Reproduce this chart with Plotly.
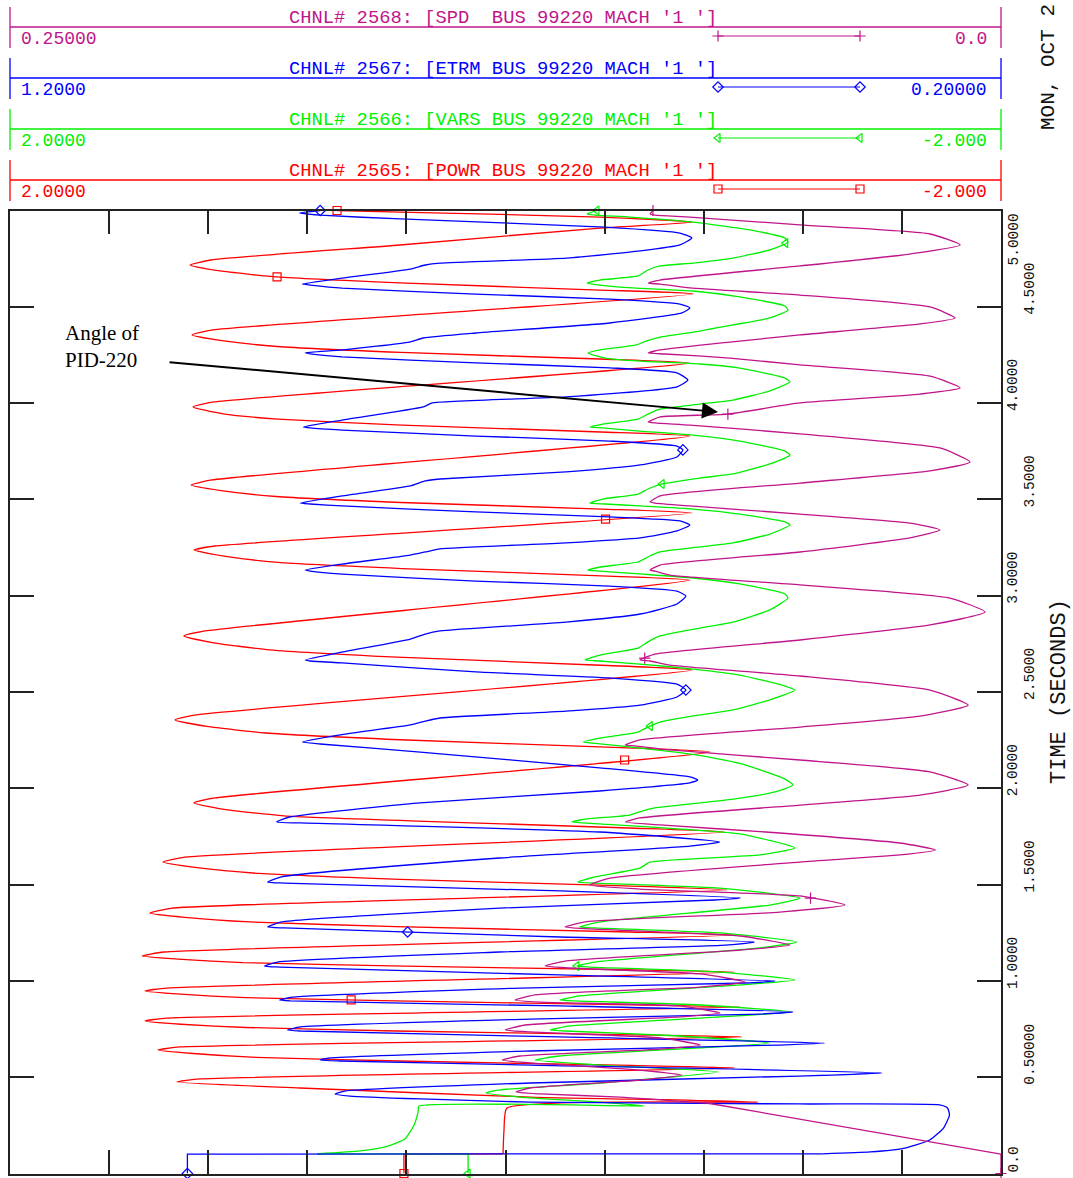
import plotly.graph_objects as go
import numpy as np

W, H = 1073, 1178

# Channel scales: value at the left edge, value at the right edge
POWR_SCALE = [2.0, -2.0]
VARS_SCALE = [2.0, -2.0]
ETRM_SCALE = [1.2, 0.2]
SPD_SCALE = [0.25, 0.0]
TIME_SCALE = [0.0, 5.0]

TIME_TICKS = [0.0, 0.5, 1.0, 1.5, 2.0, 2.5, 3.0, 3.5, 4.0, 4.5, 5.0]
TIME_TICK_TEXT = ["0.0", "0.50000", "1.0000", "1.5000", "2.0000", "2.5000",
                  "3.0000", "3.5000", "4.0000", "4.5000", "5.0000"]

# ETRM (terminal voltage, pu)
etrm_t = [0, 0.101, 0.102, 0.112, 0.132, 0.174, 0.236, 0.304, 0.340, 0.356, 0.361, 0.371, 0.387, 0.402,
          0.413, 0.428, 0.470, 0.506, 0.522, 0.563, 0.584, 0.589, 0.600, 0.636, 0.667, 0.677, 0.709,
          0.740, 0.745, 0.761, 0.802, 0.828, 0.839, 0.870, 0.896, 0.901, 0.916, 0.963, 0.989, 0.999,
          1.031, 1.072, 1.077, 1.098, 1.150, 1.186, 1.202, 1.228, 1.275, 1.280, 1.306, 1.378, 1.420,
          1.430, 1.467, 1.508, 1.513, 1.540, 1.638, 1.700, 1.721, 1.773, 1.820, 1.825, 1.851, 1.924,
          1.986, 2.028, 2.043, 2.059, 2.106, 2.188, 2.230, 2.240, 2.279, 2.329, 2.349, 2.365, 2.401,
          2.432, 2.474, 2.510, 2.541, 2.573, 2.604, 2.651, 2.661, 2.666, 2.707, 2.775, 2.801, 2.817,
          2.863, 2.905, 2.957, 2.998, 3.024, 3.050, 3.076, 3.112, 3.128, 3.133, 3.164, 3.211, 3.227,
          3.243, 3.274, 3.300, 3.336, 3.367, 3.388, 3.409, 3.435, 3.466, 3.476, 3.481, 3.518, 3.570,
          3.596, 3.606, 3.643, 3.679, 3.720, 3.757, 3.777, 3.803, 3.829, 3.860, 3.871, 3.876, 3.912,
          3.980, 4.001, 4.032, 4.084, 4.120, 4.157, 4.183, 4.209, 4.240, 4.256, 4.261, 4.276, 4.317,
          4.338, 4.364, 4.416, 4.468, 4.494, 4.514, 4.540, 4.566, 4.597, 4.613, 4.618, 4.649, 4.696,
          4.717, 4.727, 4.753, 4.790, 4.821, 4.857, 4.883, 4.914, 4.956, 4.976, 4.987, 5.0]
etrm_v = [1.021, 1.021, 0.380, 0.332, 0.297, 0.272, 0.258, 0.252, 0.254, 0.262, 0.403, 0.675, 0.786, 0.857,
          0.872, 0.862, 0.675, 0.403, 0.320, 0.675, 0.867, 0.887, 0.877, 0.675, 0.423, 0.378, 0.645,
          0.907, 0.920, 0.907, 0.675, 0.443, 0.410, 0.645, 0.917, 0.928, 0.915, 0.685, 0.458, 0.428,
          0.645, 0.928, 0.943, 0.930, 0.706, 0.478, 0.449, 0.645, 0.923, 0.940, 0.926, 0.706, 0.489,
          0.463, 0.645, 0.923, 0.940, 0.926, 0.706, 0.514, 0.484, 0.605, 0.907, 0.931, 0.918, 0.786,
          0.605, 0.514, 0.506, 0.514, 0.605, 0.786, 0.887, 0.905, 0.865, 0.796, 0.781, 0.766, 0.639,
          0.564, 0.527, 0.518, 0.527, 0.595, 0.730, 0.865, 0.897, 0.902, 0.865, 0.796, 0.781, 0.766,
          0.639, 0.564, 0.527, 0.518, 0.527, 0.595, 0.730, 0.865, 0.897, 0.902, 0.865, 0.796, 0.781,
          0.766, 0.639, 0.564, 0.527, 0.514, 0.524, 0.595, 0.730, 0.865, 0.897, 0.907, 0.865, 0.796,
          0.781, 0.766, 0.639, 0.564, 0.527, 0.521, 0.527, 0.595, 0.730, 0.865, 0.897, 0.904, 0.865,
          0.783, 0.774, 0.639, 0.527, 0.516, 0.527, 0.595, 0.730, 0.865, 0.897, 0.902, 0.865, 0.797,
          0.783, 0.730, 0.595, 0.522, 0.514, 0.524, 0.595, 0.730, 0.865, 0.897, 0.905, 0.865, 0.796,
          0.781, 0.766, 0.638, 0.564, 0.524, 0.512, 0.524, 0.600, 0.806, 0.887, 0.908, 0.887]

# POWR (electrical power, pu)
powr_t = [0, 0.101, 0.102, 0.226, 0.340, 0.371, 0.397, 0.444, 0.475, 0.491, 0.548, 0.561, 0.584, 0.603,
          0.623, 0.641, 0.657, 0.709, 0.720, 0.740, 0.758, 0.775, 0.792, 0.807, 0.864, 0.876, 0.896,
          0.913, 0.931, 0.948, 0.963, 1.046, 1.058, 1.078, 1.095, 1.113, 1.129, 1.150, 1.238, 1.254,
          1.282, 1.306, 1.330, 1.352, 1.378, 1.472, 1.493, 1.527, 1.558, 1.588, 1.617, 1.643, 1.773,
          1.794, 1.830, 1.857, 1.889, 1.924, 1.950, 2.188, 2.212, 2.252, 2.287, 2.321, 2.355, 2.381,
          2.614, 2.639, 2.681, 2.719, 2.755, 2.791, 2.817, 3.081, 3.103, 3.141, 3.173, 3.206, 3.237,
          3.258, 3.429, 3.450, 3.484, 3.515, 3.546, 3.575, 3.601, 3.829, 3.850, 3.886, 3.917, 3.944,
          3.980, 4.006, 4.208, 4.229, 4.263, 4.294, 4.324, 4.354, 4.380, 4.567, 4.587, 4.624, 4.655,
          4.686, 4.717, 4.743, 4.821, 4.909, 4.940, 4.966, 4.992, 5.0]
powr_v = [0.410, 0.410, 0.010, 0.006, -0.006, -1.019, -0.099, 0.830, 1.326, 1.233, -0.926, -0.507, 0.426,
          1.007, 1.261, 1.403, 1.314, -0.954, -0.522, 0.442, 1.048, 1.310, 1.455, 1.366, -0.946, -0.514,
          0.446, 1.048, 1.310, 1.455, 1.366, -0.926, -0.494, 0.462, 1.060, 1.322, 1.467, 1.378, -0.926,
          -0.502, 0.442, 1.031, 1.294, 1.435, 1.346, -0.894, -0.482, 0.426, 0.995, 1.245, 1.383, 1.294,
          -0.886, -0.498, 0.357, 0.894, 1.128, 1.257, 1.173, -0.825, -0.438, 0.426, 0.967, 1.205, 1.334,
          1.249, -0.753, -0.385, 0.438, 0.951, 1.177, 1.298, 1.213, -0.744, -0.385, 0.418, 0.918, 1.136,
          1.257, 1.173, -0.753, -0.389, 0.422, 0.926, 1.148, 1.269, 1.185, -0.744, -0.385, 0.418, 0.918,
          1.140, 1.261, 1.177, -0.744, -0.381, 0.422, 0.922, 1.144, 1.265, 1.181, -0.757, -0.381, 0.426,
          0.922, 1.152, 1.273, 1.189, 0.426, -0.381, -0.757, -0.381, 0.426, 0.680]

# VARS (reactive power, pu)
vars_t = [0, 0.101, 0.102, 0.117, 0.138, 0.179, 0.252, 0.319, 0.350, 0.351, 0.371, 0.397, 0.418, 0.434,
          0.470, 0.527, 0.563, 0.589, 0.610, 0.652, 0.677, 0.714, 0.740, 0.745, 0.766, 0.813, 0.839,
          0.875, 0.896, 0.901, 0.922, 0.979, 1.005, 1.046, 1.072, 1.077, 1.098, 1.171, 1.202, 1.249,
          1.275, 1.280, 1.306, 1.394, 1.430, 1.482, 1.508, 1.513, 1.540, 1.586, 1.617, 1.654, 1.690,
          1.763, 1.815, 1.825, 1.841, 1.861, 1.882, 1.898, 1.924, 1.945, 1.981, 2.017, 2.048, 2.129,
          2.176, 2.209, 2.231, 2.240, 2.261, 2.292, 2.318, 2.344, 2.381, 2.407, 2.459, 2.510, 2.531,
          2.588, 2.619, 2.645, 2.661, 2.666, 2.692, 2.728, 2.760, 2.791, 2.832, 2.863, 2.926, 2.988,
          3.009, 3.061, 3.092, 3.113, 3.128, 3.133, 3.149, 3.175, 3.201, 3.227, 3.253, 3.274, 3.320,
          3.367, 3.383, 3.424, 3.450, 3.466, 3.476, 3.481, 3.502, 3.528, 3.554, 3.580, 3.611, 3.632,
          3.684, 3.730, 3.751, 3.803, 3.834, 3.855, 3.871, 3.876, 3.891, 3.917, 3.943, 3.969, 3.995,
          4.016, 4.063, 4.110, 4.130, 4.182, 4.203, 4.218, 4.234, 4.260, 4.276, 4.302, 4.322, 4.343,
          4.374, 4.406, 4.442, 4.483, 4.504, 4.551, 4.582, 4.598, 4.613, 4.623, 4.639, 4.660, 4.691,
          4.712, 4.727, 4.753, 4.795, 4.836, 4.857, 4.899, 4.940, 4.966, 4.976, 4.982, 5.0]
vars_v = [0.151, 0.151, 0.761, 0.587, 0.486, 0.406, 0.369, 0.353, 0.349, -0.559, -0.381, -0.058, 0.079,
          0.022, -0.381, -0.858, -0.381, -0.119, -0.220, -0.785, -1.067, -0.704, -0.240, -0.180, -0.260,
          -0.866, -1.148, -0.785, -0.280, -0.220, -0.300, -0.946, -1.168, -0.866, -0.341, -0.288, -0.361,
          -1.027, -1.176, -0.866, -0.361, -0.300, -0.381, -1.067, -1.189, -0.866, -0.361, -0.292, -0.361,
          -0.543, -0.583, -1.027, -1.168, -0.946, -0.381, -0.268, -0.329, -0.502, -0.551, -0.603, -0.785,
          -0.926, -1.088, -1.160, -1.128, -0.946, -0.757, -0.543, -0.381, -0.313, -0.381, -0.535, -0.575,
          -0.624, -0.785, -0.918, -1.067, -1.168, -1.128, -0.946, -0.757, -0.543, -0.381, -0.321, -0.381,
          -0.535, -0.575, -0.624, -0.785, -0.918, -1.067, -1.140, -1.128, -0.946, -0.757, -0.543, -0.381,
          -0.333, -0.381, -0.535, -0.575, -0.624, -0.785, -0.918, -1.067, -1.148, -1.128, -0.946, -0.757,
          -0.543, -0.402, -0.341, -0.393, -0.535, -0.575, -0.632, -0.785, -0.918, -1.067, -1.148, -1.128,
          -0.946, -0.757, -0.543, -0.393, -0.341, -0.393, -0.535, -0.575, -0.624, -0.785, -0.918, -1.067,
          -1.148, -1.128, -0.946, -0.785, -0.543, -0.402, -0.333, -0.381, -0.527, -0.567, -0.624, -0.785,
          -0.918, -1.067, -1.140, -1.128, -0.946, -0.757, -0.515, -0.381, -0.329, -0.381, -0.535, -0.575,
          -0.624, -0.757, -0.918, -1.067, -1.140, -1.128, -0.987, -0.757, -0.502, -0.361, -0.329, -0.369]

# SPD (speed deviation, pu)
spd_t = [0, 0.101, 0.366, 0.397, 0.413, 0.423, 0.444, 0.485, 0.511, 0.537, 0.574, 0.589, 0.610, 0.646,
         0.667, 0.704, 0.735, 0.745, 0.771, 0.813, 0.833, 0.870, 0.890, 0.901, 0.927, 0.968, 0.994,
         1.036, 1.067, 1.077, 1.103, 1.160, 1.186, 1.233, 1.270, 1.280, 1.306, 1.357, 1.394, 1.441,
         1.477, 1.498, 1.534, 1.617, 1.654, 1.680, 1.716, 1.768, 1.810, 1.825, 1.846, 1.913, 1.965,
         2.017, 2.085, 2.147, 2.199, 2.220, 2.225, 2.251, 2.318, 2.375, 2.432, 2.510, 2.583, 2.640,
         2.661, 2.666, 2.697, 2.770, 2.848, 2.915, 2.988, 3.056, 3.107, 3.128, 3.133, 3.159, 3.227,
         3.300, 3.341, 3.377, 3.424, 3.466, 3.481, 3.487, 3.518, 3.585, 3.648, 3.694, 3.767, 3.840,
         3.886, 3.897, 3.902, 3.928, 3.943, 4.001, 4.047, 4.079, 4.140, 4.198, 4.234, 4.255, 4.260,
         4.276, 4.317, 4.354, 4.411, 4.442, 4.499, 4.561, 4.598, 4.618, 4.623, 4.639, 4.712, 4.774,
         4.821, 4.878, 4.925, 4.966, 4.976, 4.982, 5.0]
spd_v = [0.0, 0.0, 0.0742, 0.0961, 0.1163, 0.1224, 0.1188, 0.0911, 0.0805, 0.0911, 0.1188, 0.1259, 0.1213,
         0.0860, 0.0759, 0.0860, 0.1188, 0.1251, 0.1201, 0.0810, 0.0709, 0.0810, 0.1163, 0.1226, 0.1176,
         0.0759, 0.0646, 0.0759, 0.1087, 0.1150, 0.1100, 0.0658, 0.0532, 0.0658, 0.1037, 0.1100, 0.1049,
         0.0558, 0.0394, 0.0507, 0.0911, 0.1037, 0.0986, 0.0507, 0.0255, 0.0166, 0.0255, 0.0558, 0.0860,
         0.0948, 0.0911, 0.0507, 0.0204, 0.0083, 0.0179, 0.0507, 0.0835, 0.0923, 0.0948, 0.0911, 0.0507,
         0.0204, 0.0083, 0.0179, 0.0507, 0.0835, 0.0885, 0.0911, 0.0873, 0.0507, 0.0179, 0.0040, 0.0129,
         0.0507, 0.0835, 0.0873, 0.0885, 0.0860, 0.0507, 0.0230, 0.0154, 0.0230, 0.0507, 0.0785, 0.0873,
         0.0885, 0.0860, 0.0507, 0.0179, 0.0078, 0.0154, 0.0507, 0.0785, 0.0873, 0.0890, 0.0860, 0.0689,
         0.0507, 0.0204, 0.0103, 0.0179, 0.0507, 0.0684, 0.0848, 0.0890, 0.0860, 0.0684, 0.0507, 0.0204,
         0.0116, 0.0179, 0.0507, 0.0785, 0.0860, 0.0890, 0.0860, 0.0507, 0.0230, 0.0103, 0.0179, 0.0507,
         0.0785, 0.0873, 0.0885, 0.0878]

# Times at which each channel carries its identifying symbol
spd_mark_t = [0.0, 1.430, 2.676, 3.943, 5.0]
etrm_mark_t = [0.0, 1.254, 2.510, 3.757, 5.0]
vars_mark_t = [0.0, 1.077, 2.323, 3.580, 4.831, 5.0]
powr_mark_t = [0.0, 0.901, 2.147, 3.398, 4.655, 5.0]

MAGENTA = "#C0158A"
BLUE = "#0000FF"
GREEN = "#00F000"
RED = "#FF0000"
MONO = "Liberation Mono, DejaVu Sans Mono, monospace"

channels = [
    ("SPD", "CHNL# 2568: [SPD  BUS 99220 MACH '1 ']", SPD_SCALE, MAGENTA, "cross-thin-open",
     spd_t, spd_v, spd_mark_t, "x4", ["0.25000", "0.0"]),
    ("ETRM", "CHNL# 2567: [ETRM BUS 99220 MACH '1 ']", ETRM_SCALE, BLUE, "diamond-open",
     etrm_t, etrm_v, etrm_mark_t, "x3", ["1.2000", "0.20000"]),
    ("VARS", "CHNL# 2566: [VARS BUS 99220 MACH '1 ']", VARS_SCALE, GREEN, "triangle-left-open",
     vars_t, vars_v, vars_mark_t, "x2", ["2.0000", "-2.000"]),
    ("POWR", "CHNL# 2565: [POWR BUS 99220 MACH '1 ']", POWR_SCALE, RED, "square-open",
     powr_t, powr_v, powr_mark_t, "x", ["2.0000", "-2.000"]),
]

# plot frame in pixels
PX0, PX1 = 10, 1001
PY_TOP, PY_BOT = 210.5, 1173.5
STEP_PTS = 3  # pre-disturbance and fault-on steps are drawn as straight segments


def px(x):
    return x / W


def py(y):
    return 1 - y / H


fig = go.Figure()

for name, title, scale, color, sym, t, v, mt, ax, lab in reversed(channels):
    fig.add_trace(go.Scatter(x=v[:STEP_PTS], y=t[:STEP_PTS], xaxis=ax, yaxis="y", mode="lines",
                             line=dict(color=color, width=1.3), showlegend=False, hoverinfo="skip"))
    fig.add_trace(go.Scatter(x=v[STEP_PTS - 1:], y=t[STEP_PTS - 1:], xaxis=ax, yaxis="y", mode="lines",
                             line=dict(color=color, width=1.3, shape="spline", smoothing=0.5),
                             showlegend=False, hoverinfo="skip"))
    tt = np.asarray(t, dtype=float)
    vv = np.asarray(v, dtype=float)
    mv = [float(np.interp(m, tt, vv)) for m in mt]
    fig.add_trace(go.Scatter(x=mv, y=mt, xaxis=ax, yaxis="y", mode="markers",
                             marker=dict(symbol=sym, size=8, color=color, line=dict(color=color, width=1.2)),
                             showlegend=False, hoverinfo="skip", cliponaxis=False))

dom_x = [px(PX0), px(PX1)]
dom_y = [py(PY_BOT), py(PY_TOP)]

fig.update_layout(
    width=W, height=H, margin=dict(l=0, r=0, t=0, b=0),
    paper_bgcolor="white", plot_bgcolor="rgba(0,0,0,0)",
    xaxis=dict(range=POWR_SCALE, domain=dom_x, tick0=-2.0, dtick=0.4, ticks="inside", ticklen=24,
               tickwidth=1.5, tickcolor="#222", showline=True, linecolor="#222", linewidth=1.5,
               mirror="ticks", showgrid=False, zeroline=False, showticklabels=False, anchor="y"),
    xaxis2=dict(range=VARS_SCALE, overlaying="x", anchor="y", visible=False, domain=dom_x),
    xaxis3=dict(range=ETRM_SCALE, overlaying="x", anchor="y", visible=False, domain=dom_x),
    xaxis4=dict(range=SPD_SCALE, overlaying="x", anchor="y", visible=False, domain=dom_x),
    yaxis=dict(range=TIME_SCALE, domain=dom_y, tick0=0, dtick=0.5, ticks="inside", ticklen=24,
               tickwidth=1.5, tickcolor="#222", showline=True, linecolor="#222", linewidth=1.5,
               mirror="ticks", showgrid=False, zeroline=False, showticklabels=False, anchor="x"),
)

shapes = []
annotations = []

# channel header bands
BAND_Y = [27, 78, 129, 180]
for (name, title, scale, color, sym, t, v, mt, ax, lab), yl in zip(channels, BAND_Y):
    shapes.append(dict(type="line", xref="paper", yref="paper", x0=px(PX0), x1=px(PX1),
                       y0=py(yl), y1=py(yl), line=dict(color=color, width=1.3)))
    for xx in (PX0, PX1):
        shapes.append(dict(type="line", xref="paper", yref="paper", x0=px(xx), x1=px(xx),
                           y0=py(yl - 20), y1=py(yl + 21), line=dict(color=color, width=1.3)))
    shapes.append(dict(type="line", xref="paper", yref="paper", x0=px(718), x1=px(860),
                       y0=py(yl + 9), y1=py(yl + 9), line=dict(color=color, width=1.2)))
    annotations.append(dict(text=title, xref="paper", yref="paper", x=px(503), y=py(yl - 9),
                            xanchor="center", yanchor="middle", showarrow=False,
                            font=dict(family=MONO, size=18.8, color=color)))
    annotations.append(dict(text=lab[0], xref="paper", yref="paper", x=px(19), y=py(yl + 12),
                            xanchor="left", yanchor="middle", showarrow=False,
                            font=dict(family=MONO, size=18, color=color)))
    annotations.append(dict(text=lab[1], xref="paper", yref="paper", x=px(989), y=py(yl + 12),
                            xanchor="right", yanchor="middle", showarrow=False,
                            font=dict(family=MONO, size=18, color=color)))

# legend sample symbols on a full-page pixel canvas
leg_x, leg_y, leg_sym, leg_col = [], [], [], []
for (name, title, scale, color, sym, t, v, mt, ax, lab), yl in zip(channels, BAND_Y):
    for xx in (718, 860):
        leg_x.append(xx)
        leg_y.append(yl + 9)
        leg_sym.append(sym)
        leg_col.append(color)
fig.add_trace(go.Scatter(x=leg_x, y=leg_y, xaxis="x5", yaxis="y5", mode="markers",
                         marker=dict(symbol=leg_sym, size=8, color=leg_col,
                                     line=dict(color=leg_col, width=1.2)),
                         showlegend=False, hoverinfo="skip", cliponaxis=False))
fig.update_layout(
    xaxis5=dict(range=[0, W], domain=[0, 1], visible=False, anchor="y5"),
    yaxis5=dict(range=[H, 0], domain=[0, 1], visible=False, anchor="x5"),
)

# time tick labels in two alternating columns
for i, (tv, tx) in enumerate(zip(TIME_TICKS, TIME_TICK_TEXT)):
    col_x = 1013 if i % 2 == 0 else 1030
    if i == 0:
        ya, ys = "bottom", 0
    elif i == len(TIME_TICKS) - 1:
        ya, ys = "top", -2
    else:
        ya, ys = "bottom", -9
    annotations.append(dict(text=tx, xref="paper", yref="y", x=px(col_x), y=tv, yshift=ys,
                            xanchor="center", yanchor=ya, textangle=-90, showarrow=False,
                            borderpad=0, font=dict(family=MONO, size=14.5, color="#111")))

annotations.append(dict(text="TIME (SECONDS)", xref="paper", yref="y", x=px(1059), y=2.5,
                        xanchor="center", yanchor="middle", textangle=-90, showarrow=False,
                        font=dict(family=MONO, size=22, color="#111")))
annotations.append(dict(text="MON, OCT 2", xref="paper", yref="paper", x=px(1048), y=py(131),
                        xanchor="center", yanchor="bottom", textangle=-90, showarrow=False,
                        borderpad=0, font=dict(family=MONO, size=21, color="#111")))

# callout
annotations.append(dict(text="Angle of<br>PID-220", xref="paper", yref="paper", x=px(63), y=py(347),
                        xanchor="left", yanchor="middle", align="left", showarrow=False,
                        font=dict(family="Liberation Serif, Times New Roman, serif", size=21, color="black")))
annotations.append(dict(text="", xref="paper", yref="paper", x=px(718), y=py(412),
                        ax=-550, ay=-50, axref="pixel", ayref="pixel", showarrow=True,
                        arrowhead=2, arrowsize=1.6, arrowwidth=2, arrowcolor="black"))

fig.update_layout(shapes=shapes, annotations=annotations)
fig.write_html("out.html")
